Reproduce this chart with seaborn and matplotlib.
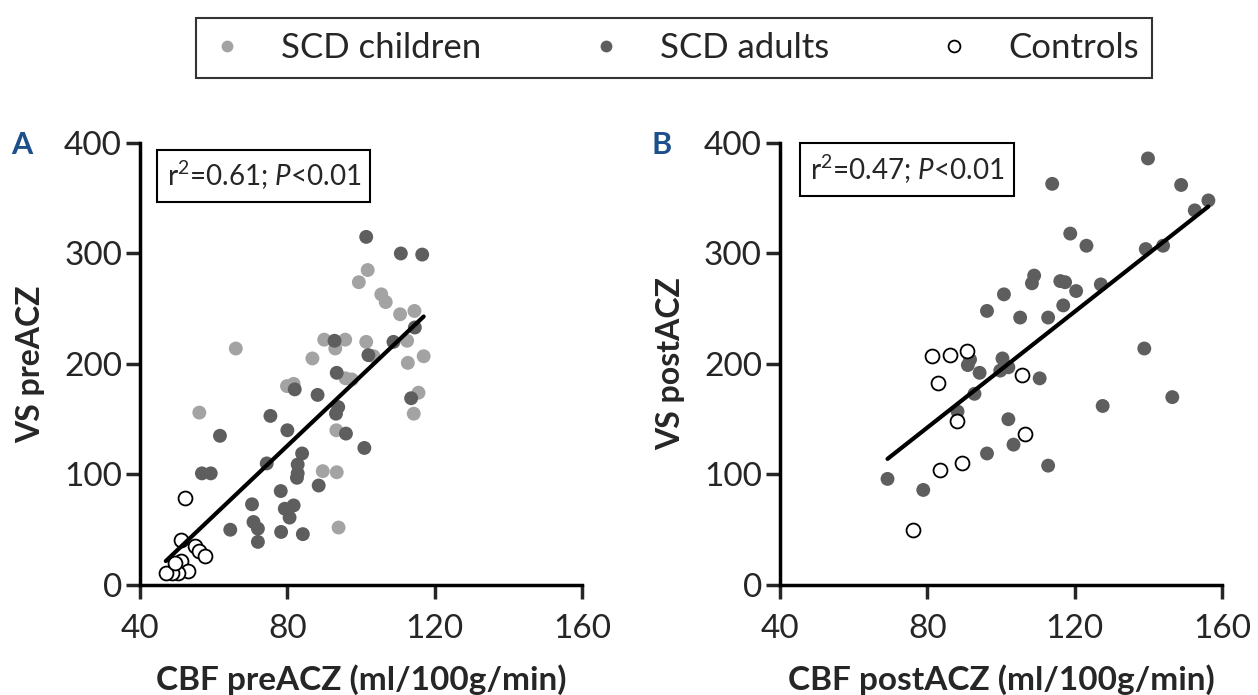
import numpy as np
import pandas as pd
import matplotlib.pyplot as plt
import seaborn as sns
from matplotlib.lines import Line2D

# ---- data ----
# panel A : CBF preACZ vs VS preACZ
a_child_x = [101.8, 99.4, 105.5, 106.7, 110.6, 114.5, 90.0, 95.7, 93.0, 101.4, 112.5, 117.0,
             112.7, 66.0, 86.8, 103.4, 95.8, 97.5, 79.9, 81.7, 115.6, 114.3, 56.1, 93.3,
             89.6, 93.4, 93.9]
a_child_y = [285, 274, 263, 256, 245, 248, 222, 222, 214, 220, 221, 207,
             201, 214, 205, 207, 187, 186, 180, 182, 174, 155, 156, 140,
             103, 102, 52]
a_adult_x = [101.4, 110.8, 116.6, 92.8, 102.0, 108.8, 114.6, 93.4, 82.0, 88.2, 75.4, 113.6,
             93.8, 93.2, 80.0, 61.7, 95.9, 100.9, 84.0, 74.4, 82.8, 82.8, 82.6, 56.8,
             59.2, 88.5, 78.2, 70.4, 79.3, 81.7, 80.6, 70.8, 72.0, 72.0, 64.5, 78.3, 84.2]
a_adult_y = [315, 300, 299, 221, 208, 220, 233, 192, 177, 172, 153, 169,
             161, 155, 140, 135, 137, 124, 119, 110, 109, 101, 97, 101,
             101, 90, 85, 73, 69, 72, 61, 57, 51, 39, 50, 48, 46]
a_ctrl_x = [52.3, 51.0, 55.0, 56.1, 57.7, 51.0, 53.1, 50.4, 48.6, 47.0, 49.5]
a_ctrl_y = [79, 41, 35, 31, 26, 22, 13, 11, 11, 11, 20]

# panel B : CBF postACZ vs VS postACZ
b_adult_x = [139.9, 113.9, 148.9, 156.3, 152.6, 118.8, 123.2, 139.3, 144.0, 109.0, 108.4, 116.1,
             117.4, 120.4, 127.1, 100.8, 116.9, 96.2, 105.2, 112.8, 138.9, 91.6, 91.0, 100.4,
             102.0, 99.8, 94.2, 110.5, 92.8, 88.2, 146.5, 127.6, 102.0, 103.4, 96.2, 112.8,
             69.2, 78.9]
b_adult_y = [386, 363, 362, 348, 339, 318, 307, 304, 307, 280, 273, 275,
             274, 266, 272, 263, 253, 248, 242, 242, 214, 204, 199, 205,
             197, 194, 192, 187, 173, 157, 170, 162, 150, 127, 119, 108,
             96, 86]
b_ctrl_x = [81.3, 86.1, 90.7, 82.8, 105.6, 88.0, 106.6, 89.3, 83.4, 76.1]
b_ctrl_y = [207, 208, 212, 183, 190, 148, 137, 110, 104, 50]

stats_a = 'r$^2$=0.61; $\\it{P}$<0.01'
stats_b = 'r$^2$=0.47; $\\it{P}$<0.01'
group_names = ['SCD children', 'SCD adults', 'Controls']
x_ticks = [40, 80, 120, 160]
y_ticks = [0, 100, 200, 300, 400]

light = '#a3a3a3'
dark = '#5e5e5e'
blue = '#1d4f8c'

sns.set_style('white')
plt.rcParams['font.family'] = ['Lato', 'DejaVu Sans']
plt.rcParams['mathtext.fontset'] = 'custom'
plt.rcParams['mathtext.rm'] = 'Lato'
plt.rcParams['mathtext.it'] = 'Lato:italic'

fig = plt.figure(figsize=(12.58, 6.95), dpi=100)
ax_a = fig.add_axes([0.1113, 0.1583, 0.3514, 0.636])
ax_b = fig.add_axes([0.62, 0.1583, 0.3514, 0.636])


def draw_panel(ax, groups, stats, stats_pos, xlabel, ylabel, letter):
    all_x, all_y = [], []
    for gx, gy, col in groups:
        if col == 'open':
            sns.scatterplot(x=gx, y=gy, ax=ax, s=100, facecolor='white',
                            edgecolor='black', linewidth=1.3, zorder=3)
        else:
            sns.scatterplot(x=gx, y=gy, ax=ax, s=100, color=col,
                            edgecolor='none', zorder=2)
        all_x += gx
        all_y += gy
    # one regression line through all groups of the panel
    sns.regplot(x=np.array(all_x), y=np.array(all_y), ax=ax, scatter=False,
                ci=None, truncate=True, color='black', line_kws={'lw': 3, 'zorder': 4})
    ax.set_xlim(40, 160)
    ax.set_ylim(0, 400)
    ax.set_xticks(x_ticks)
    ax.set_yticks(y_ticks)
    ax.tick_params(labelsize=24, length=10, width=2.5, direction='out',
                   bottom=True, left=True)
    ax.tick_params(axis='x', pad=11)
    ax.tick_params(axis='y', pad=3)
    for side in ['top', 'right']:
        ax.spines[side].set_visible(False)
    for side in ['left', 'bottom']:
        ax.spines[side].set_linewidth(2.5)
        ax.spines[side].set_color('black')
    ax.set_xlabel(xlabel, fontsize=24, fontweight='bold')
    ax.set_ylabel(ylabel, fontsize=23, fontweight='bold')
    ax.xaxis.set_label_coords(0.5, -0.18)
    ax.yaxis.set_label_coords(-0.215, 0.5)
    ax.text(stats_pos[0], stats_pos[1], stats, transform=ax.transAxes, fontsize=20,
            va='top', ha='left',
            bbox=dict(boxstyle='square,pad=0.35', fc='white', ec='black', lw=1.5))
    ax.text(-0.267, 0.995, letter, transform=ax.transAxes, fontsize=22,
            fontweight='bold', color=blue, va='center', ha='center')


draw_panel(ax_a, [(a_child_x, a_child_y, light), (a_adult_x, a_adult_y, dark),
                  (a_ctrl_x, a_ctrl_y, 'open')],
           stats_a, (0.06, 0.963), 'CBF preACZ (ml/100g/min)', 'VS preACZ', 'A')
draw_panel(ax_b, [(b_adult_x, b_adult_y, dark), (b_ctrl_x, b_ctrl_y, 'open')],
           stats_b, (0.068, 0.977), 'CBF postACZ (ml/100g/min)', 'VS postACZ', 'B')

handles = [
    Line2D([], [], ls='none', marker='o', ms=8.5, mfc=light, mec='none'),
    Line2D([], [], ls='none', marker='o', ms=8.5, mfc=dark, mec='none'),
    Line2D([], [], ls='none', marker='o', ms=8.5, mfc='white', mec='black', mew=1.3),
]
leg = fig.legend(handles, group_names, loc='center', bbox_to_anchor=(0.5358, 0.931),
                 ncol=3, fontsize=25, frameon=True, fancybox=False, edgecolor='black',
                 handletextpad=1.05, columnspacing=3.1, borderpad=0.4,
                 handlelength=1.0, borderaxespad=0)
leg.get_frame().set_linewidth(1.5)

fig.savefig('out.png', dpi=100)
